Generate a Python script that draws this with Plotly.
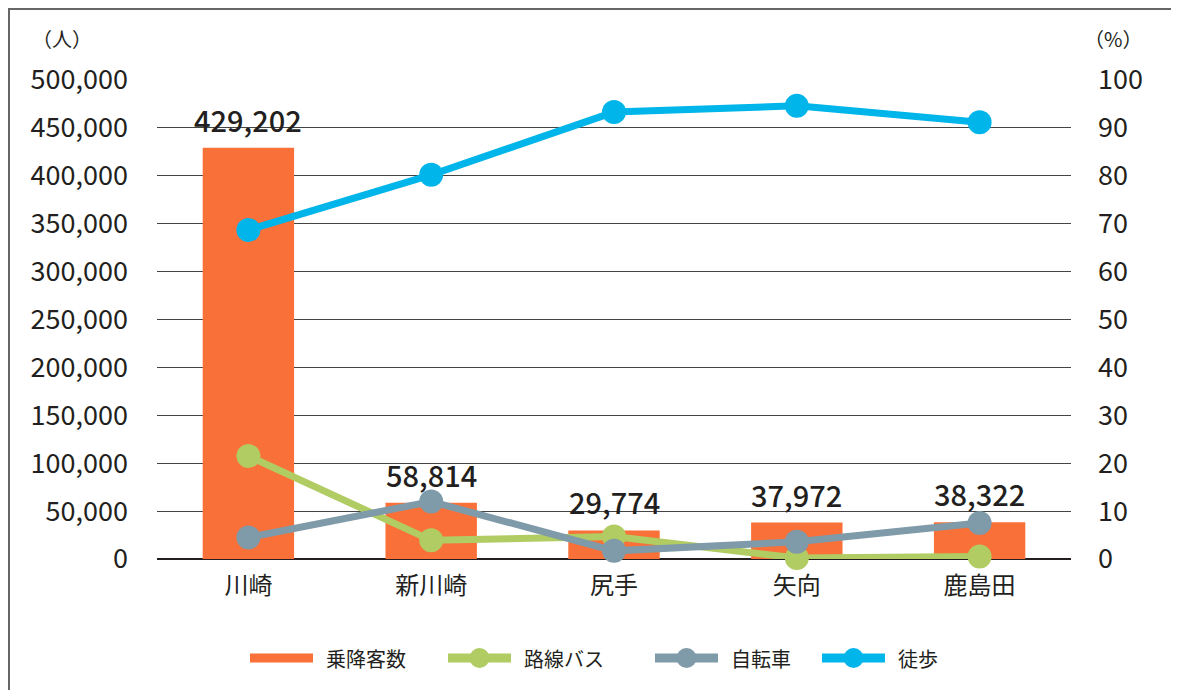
import plotly.graph_objects as go

categories = ["川崎", "新川崎", "尻手", "矢向", "鹿島田"]
passengers = [429202, 58814, 29774, 37972, 38322]
bus = [21.5, 3.9, 4.7, 0.2, 0.5]
bicycle = [4.5, 12.0, 1.7, 3.6, 7.5]
walk = [68.7, 80.2, 93.3, 94.6, 91.2]
left_ticks = [0, 50000, 100000, 150000, 200000, 250000, 300000, 350000, 400000, 450000, 500000]
right_ticks = [0, 10, 20, 30, 40, 50, 60, 70, 80, 90, 100]
legend_names = ["乗降客数", "路線バス", "自転車", "徒歩"]

FONT = "Noto Sans CJK JP"
TXT = "#231F20"
ORANGE = "#F97038"
GREEN = "#B0CC62"
GRAY = "#7F9AA8"
BLUE = "#00B5E9"
colors = [ORANGE, GREEN, GRAY, BLUE]

# figure geometry (the page body adds an 8px offset)
W, H = 1171, 682
ML, MR, MT, MB = 149, 108, 72, 131
PW, PH = W - ML - MR, H - MT - MB


def px_x(x):
    return (x - ML) / PW


def px_y(y):
    return (H - MB - y) / PH


fig = go.Figure()
fig.add_trace(go.Bar(x=categories, y=passengers, marker=dict(color=ORANGE, line=dict(width=0)),
                     width=0.5, showlegend=False, name="乗降客数"))
for name, vals, col in [("路線バス", bus, GREEN), ("自転車", bicycle, GRAY), ("徒歩", walk, BLUE)]:
    fig.add_trace(go.Scatter(x=categories, y=vals, name=name, yaxis="y2", mode="lines+markers",
                             line=dict(color=col, width=7), marker=dict(color=col, size=24),
                             cliponaxis=False, showlegend=False))

for c, v in zip(categories, passengers):
    fig.add_annotation(x=c, y=v, text=f"{v:,}", showarrow=False, yanchor="bottom", yshift=6,
                       font=dict(family=FONT, size=29, color=TXT, weight=500))

fig.add_annotation(xref="paper", yref="paper", x=px_x(54), y=px_y(30), text="（人）", showarrow=False,
                   xanchor="center", yanchor="middle", font=dict(family=FONT, size=20, color=TXT))
fig.add_annotation(xref="paper", yref="paper", x=px_x(1105), y=px_y(30), text="（%）", showarrow=False,
                   xanchor="center", yanchor="middle", font=dict(family=FONT, size=20, color=TXT))

# frame
fig.add_shape(type="rect", xref="paper", yref="paper", x0=px_x(1), x1=px_x(W + 50),
              y0=px_y(H + 50), y1=px_y(1),
              line=dict(color="#666666", width=2), fillcolor="rgba(0,0,0,0)", layer="below")

# custom legend (long line symbols as in the reference)
leg_y = px_y(650)
item_starts = [242, 440, 647, 814]
line_len = 63
for i, (name, col, xs) in enumerate(zip(legend_names, colors, item_starts)):
    fig.add_shape(type="line", xref="paper", yref="paper", x0=px_x(xs), x1=px_x(xs + line_len),
                  y0=leg_y, y1=leg_y, line=dict(color=col, width=9))
    if i > 0:
        cx = xs + line_len / 2
        r = 10
        fig.add_shape(type="circle", xref="paper", yref="paper", x0=px_x(cx - r), x1=px_x(cx + r),
                      y0=leg_y - r / PH, y1=leg_y + r / PH, fillcolor=col, line=dict(width=0))
    fig.add_annotation(xref="paper", yref="paper", x=px_x(xs + line_len + 11), y=leg_y, text=name,
                       showarrow=False, xanchor="left", yanchor="middle",
                       font=dict(family=FONT, size=20, color=TXT))

fig.update_layout(
    width=W, height=H,
    margin=dict(l=ML, r=MR, t=MT, b=MB),
    paper_bgcolor="white", plot_bgcolor="white",
    font=dict(family=FONT, color=TXT),
    showlegend=False,
    xaxis=dict(tickfont=dict(size=24, color=TXT), showgrid=False, showline=False,
               ticks="", ticklabelstandoff=10, range=[-0.5, 4.5]),
    yaxis=dict(range=[0, 500000], tickvals=left_ticks, tickformat=",d",
               tickfont=dict(size=27, color=TXT), gridcolor="#444444", gridwidth=1,
               zeroline=True, zerolinecolor="#231F20", zerolinewidth=2,
               ticks="", ticklabelstandoff=28, showline=False),
    yaxis2=dict(range=[0, 100], tickvals=right_ticks, overlaying="y", side="right",
                tickfont=dict(size=27, color=TXT), showgrid=False, zeroline=False,
                ticks="", ticklabelstandoff=26, showline=False),
)
fig.write_html("out.html")
